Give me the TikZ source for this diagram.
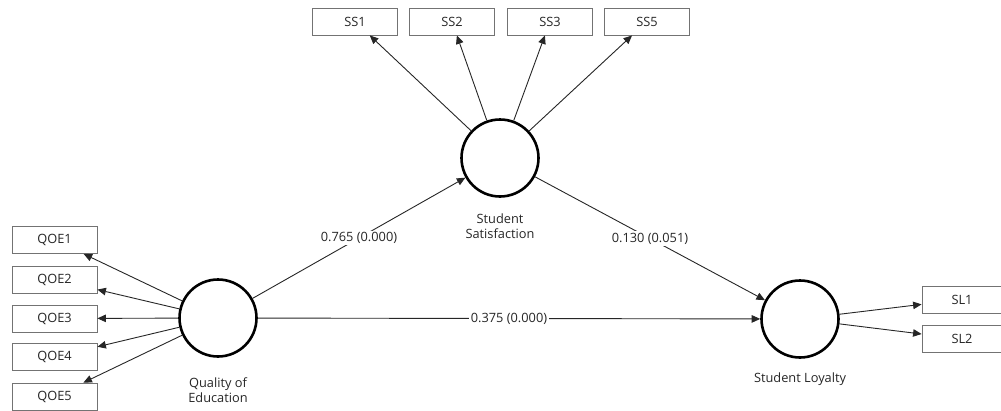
\documentclass[tikz,border=0pt]{standalone}
\usepackage{fontspec}
\setmainfont{Open Sans}
\usetikzlibrary{arrows.meta}
\begin{document}
\begin{tikzpicture}[x=1pt,y=-1pt,
  every node/.style={font=\fontsize{12.8}{15.5}\selectfont,text=black!85},
  lv/.style={circle,draw=black,line width=2.6pt,minimum size=77pt,inner sep=0pt},
  ind/.style={rectangle,draw=black!55,line width=0.8pt,fill=white,minimum width=85pt,minimum height=27pt,inner sep=0pt},
  arr/.style={draw=black!85,line width=0.9pt,-{Triangle[length=8.5pt,width=7.5pt]}},
  coef/.style={fill=white,inner sep=1.5pt},
  lvlab/.style={align=center}
]
\useasboundingbox (0,0) rectangle (1001,410);
% latent variables
\node[lv] (qoe) at (218,318) {};
\node[lv] (ss) at (500,158) {};
\node[lv] (sl) at (800,319) {};
\node[lvlab] (qoelab) at (218,390) {Quality of\\Education};
\node[lvlab] (sslab) at (500,226) {Student\\Satisfaction};
\node[lvlab] (sllab) at (800,379) {Student Loyalty};
% indicators
\node[ind] (q1) at (54.5,240) {QOE1};
\node[ind] (q2) at (54.5,279.5) {QOE2};
\node[ind] (q3) at (54.5,318.5) {QOE3};
\node[ind] (q4) at (54.5,357) {QOE4};
\node[ind] (q5) at (54.5,396.5) {QOE5};
\node[ind] (s1) at (355,21.5) {SS1};
\node[ind] (s2) at (452,21.5) {SS2};
\node[ind] (s3) at (550,21.5) {SS3};
\node[ind] (s5) at (647,21.5) {SS5};
\node[ind,minimum width=80pt] (l1) at (962,299.5) {SL1};
\node[ind,minimum width=80pt] (l2) at (962,339) {SL2};
% outer loadings
\foreach \t in {q1,q2,q3,q4,q5} \draw[arr] (qoe) -- (\t);
\foreach \t in {s1,s2,s3,s5} \draw[arr] (ss) -- (\t);
\foreach \t in {l1,l2} \draw[arr] (sl) -- (\t);
% structural paths
\draw[arr] (qoe) -- node[coef] (c1) {0.765 (0.000)} (ss);
\draw[arr] (ss) -- node[coef] (c2) {0.130 (0.051)} (sl);
\draw[arr] (qoe) -- node[coef] (c3) {0.375 (0.000)} (sl);
\end{tikzpicture}
\end{document}
